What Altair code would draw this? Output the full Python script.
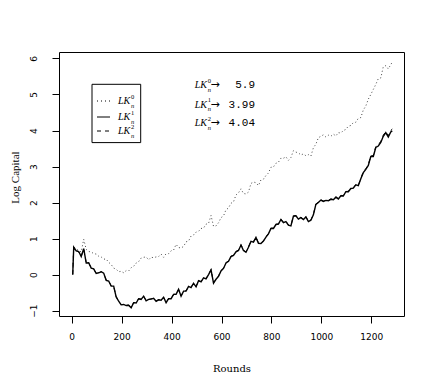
import altair as alt
import pandas as pd

# ---------------- data ----------------
rounds = [4] + list(range(8, 1288, 10)) + [1284]

lk0 = [0.00, 0.76, 0.72, 0.66, 0.63, 0.98, 0.70, 0.64, 0.63, 0.58,
       0.57, 0.51, 0.49, 0.43, 0.43, 0.34, 0.28, 0.18, 0.15, 0.08,
       0.09, 0.05, 0.11, 0.10, 0.19, 0.23, 0.32, 0.36, 0.46, 0.48,
       0.49, 0.41, 0.48, 0.47, 0.49, 0.50, 0.57, 0.48, 0.58, 0.58,
       0.66, 0.68, 0.84, 0.75, 0.74, 0.78, 0.91, 0.93, 1.07, 1.10,
       1.18, 1.20, 1.28, 1.29, 1.40, 1.42, 1.64, 1.34, 1.35, 1.44,
       1.58, 1.63, 1.80, 1.85, 1.98, 2.02, 2.21, 2.27, 2.38, 2.25,
       2.24, 2.29, 2.53, 2.57, 2.55, 2.47, 2.63, 2.65, 2.75, 2.82,
       2.98, 2.99, 3.09, 3.12, 3.23, 3.23, 3.27, 3.17, 3.25, 3.44,
       3.40, 3.38, 3.32, 3.35, 3.30, 3.33, 3.29, 3.52, 3.62, 3.80,
       3.84, 3.88, 3.82, 3.87, 3.84, 3.90, 3.85, 3.94, 3.93, 4.00,
       4.03, 4.12, 4.14, 4.22, 4.23, 4.34, 4.36, 4.57, 4.68, 4.87,
       5.00, 5.14, 5.28, 5.44, 5.46, 5.77, 5.80, 5.71, 5.83, 5.90]

lk1 = [0.00, 0.76, 0.66, 0.64, 0.50, 0.72, 0.32, 0.33, 0.18, 0.16,
       0.03, 0.05, 0.08, 0.04, -0.16, -0.18, -0.32, -0.32, -0.62, -0.74,
       -0.84, -0.83, -0.86, -0.85, -0.92, -0.78, -0.79, -0.67, -0.69, -0.60,
       -0.73, -0.69, -0.68, -0.66, -0.74, -0.70, -0.71, -0.63, -0.78, -0.67,
       -0.67, -0.55, -0.55, -0.41, -0.60, -0.46, -0.46, -0.33, -0.36, -0.24,
       -0.34, -0.17, -0.20, -0.09, -0.12, 0.00, 0.13, -0.24, -0.13, -0.05,
       0.10, 0.17, 0.32, 0.37, 0.50, 0.53, 0.63, 0.67, 0.82, 0.67,
       0.62, 0.76, 0.92, 0.90, 1.03, 0.87, 0.86, 0.93, 1.04, 1.13,
       1.28, 1.28, 1.39, 1.40, 1.53, 1.44, 1.47, 1.37, 1.35, 1.62,
       1.63, 1.54, 1.58, 1.53, 1.60, 1.47, 1.51, 1.66, 1.95, 2.00,
       2.07, 2.03, 2.06, 2.05, 2.09, 2.08, 2.15, 2.10, 2.19, 2.18,
       2.30, 2.30, 2.39, 2.40, 2.49, 2.47, 2.66, 2.83, 2.92, 3.03,
       3.28, 3.28, 3.53, 3.57, 3.67, 3.84, 3.94, 3.82, 3.96, 3.99]

lk2 = [0.00, 0.76, 0.67, 0.63, 0.51, 0.71, 0.33, 0.32, 0.19, 0.15,
       0.04, 0.04, 0.08, 0.04, -0.15, -0.18, -0.31, -0.33, -0.61, -0.74,
       -0.83, -0.83, -0.85, -0.85, -0.91, -0.78, -0.78, -0.67, -0.68, -0.60,
       -0.72, -0.69, -0.67, -0.66, -0.73, -0.70, -0.70, -0.63, -0.77, -0.67,
       -0.66, -0.55, -0.54, -0.41, -0.59, -0.46, -0.45, -0.33, -0.35, -0.24,
       -0.33, -0.17, -0.19, -0.09, -0.11, 0.00, 0.14, -0.23, -0.12, -0.04,
       0.11, 0.18, 0.33, 0.38, 0.51, 0.54, 0.64, 0.68, 0.83, 0.68,
       0.63, 0.77, 0.93, 0.91, 1.04, 0.88, 0.87, 0.94, 1.05, 1.14,
       1.29, 1.29, 1.40, 1.41, 1.54, 1.45, 1.48, 1.38, 1.36, 1.63,
       1.64, 1.55, 1.59, 1.54, 1.61, 1.48, 1.52, 1.67, 1.96, 2.01,
       2.08, 2.04, 2.07, 2.06, 2.10, 2.09, 2.16, 2.11, 2.20, 2.19,
       2.31, 2.31, 2.40, 2.41, 2.50, 2.48, 2.67, 2.85, 2.94, 3.05,
       3.30, 3.30, 3.55, 3.60, 3.70, 3.87, 3.97, 3.86, 4.00, 4.04]

series_sup = ["0", "1", "2"]
final_labels = ["5.9", "3.99", "4.04"]
x_ticks = [0, 200, 400, 600, 800, 1000, 1200]
y_ticks = [-1, 0, 1, 2, 3, 4, 5, 6]

# ---------------- layout ----------------
W, H = 345, 264
x_scale = alt.Scale(domain=[-51, 1331], nice=False, zero=False)
y_scale = alt.Scale(domain=[-1.15, 6.18], nice=False, zero=False)

x_axis = alt.Axis(
    title="Rounds", values=x_ticks, format="d",
    labelFont="DejaVu Sans", labelFontSize=9, labelPadding=9,
    tickSize=7, tickColor="black", tickWidth=1,
    titleFont="DejaVu Serif", titleFontSize=10, titleFontWeight="normal",
    titleY=55, titleBaseline="alphabetic", grid=False, domain=False,
)
y_axis = alt.Axis(
    title="Log Capital", values=y_ticks, format="d",
    labelFont="DejaVu Sans", labelFontSize=9, labelPadding=16,
    labelAngle=270, labelAlign="center", labelBaseline="alphabetic",
    tickSize=7, tickColor="black", tickWidth=1,
    titleFont="Liberation Serif", titleFontSize=11, titleFontWeight="normal",
    titleAngle=270, titleX=-44, titleY=125, titleAlign="center",
    titleBaseline="middle", grid=False, domain=False,
)


def frame(vals):
    return pd.DataFrame({"round": rounds, "value": vals})


def line(vals, dash, width, color="black"):
    kw = dict(color=color, strokeWidth=width, clip=True)
    if dash:
        kw["strokeDash"] = dash
    return alt.Chart(frame(vals)).mark_line(**kw).encode(
        x=alt.X("round:Q", scale=x_scale, axis=x_axis),
        y=alt.Y("value:Q", scale=y_scale, axis=y_axis),
    )


one = pd.DataFrame({"k": [0]})


def txt(text, x, y, size, font, style="normal", align="left", baseline="middle"):
    return alt.Chart(one).mark_text(
        text=text, font=font, fontSize=size, fontStyle=style,
        align=align, baseline=baseline, color="black"
    ).encode(x=alt.value(x), y=alt.value(y))


def lk_label(sup, x, y):
    return [
        txt("LK", x, y, 10, "Liberation Serif", "italic"),
        txt(sup, x + 13, y - 4.5, 6.5, "Liberation Serif"),
        txt("n", x + 13, y + 4.5, 6.5, "Liberation Serif", "italic"),
    ]


layers = [
    line(lk2, [4, 4], 1.0),
    line(lk0, [1, 2.5], 1.0, "#444444"),
    line(lk1, None, 1.4),
]

# legend box
layers.append(
    alt.Chart(one).mark_rect(fill="white", stroke="black", strokeWidth=1).encode(
        x=alt.value(33), x2=alt.value(81.7), y=alt.value(32.3), y2=alt.value(90.6)
    )
)
legend_rows = [49, 65, 79]
legend_dash = [[1, 3], None, [4, 4]]
for i, yy in enumerate(legend_rows):
    kw = dict(color="black", strokeWidth=1)
    if legend_dash[i]:
        kw["strokeDash"] = legend_dash[i]
    layers.append(
        alt.Chart(one).mark_rule(**kw).encode(
            x=alt.value(38), x2=alt.value(51), y=alt.value(yy)
        )
    )
    layers += lk_label(series_sup[i], 59, yy)

# final-value annotations
ann_rows = [33.3, 52.6, 71]
for i, yy in enumerate(ann_rows):
    layers += lk_label(series_sup[i], 135.7, yy)
    layers.append(txt("\u2192", 151.5, yy, 11, "DejaVu Sans"))
    layers.append(txt(final_labels[i], 196, yy, 11, "Liberation Mono", align="right"))

chart = (
    alt.layer(*layers)
    .properties(
        width=W, height=H,
        padding={"left": 51, "top": 44, "right": 20, "bottom": 58},
        autosize=alt.AutoSizeParams(type="none"),
        background="white",
    )
    .configure_view(stroke="black", strokeWidth=1)
    .configure_axis(labelColor="black", titleColor="black")
)

chart.save("out.html", embed_options={"renderer": "svg", "actions": False})
